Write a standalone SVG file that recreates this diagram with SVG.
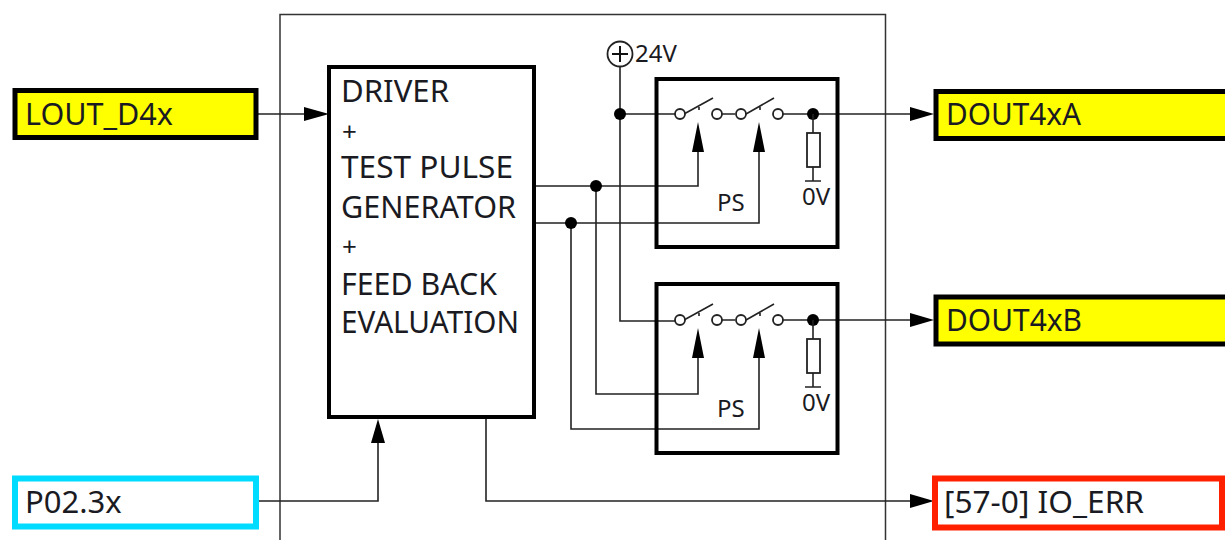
<svg xmlns="http://www.w3.org/2000/svg" width="1225" height="540" viewBox="0 0 1225 540">
<style>
text{font-family:"Noto Sans","Open Sans",sans-serif;fill:#1a1a22}
.t{font-size:31px}
.p{font-size:26px}
.s{font-size:24px}
.w{fill:none;stroke:#222;stroke-width:1.6}
.b{fill:#fff;stroke:#000;stroke-width:4}
.f{fill:none;stroke:#000;stroke-width:4}
.o{fill:#fff;stroke:#222;stroke-width:1.8}
.d{fill:#000}
.ah{fill:#000}
</style>
<defs>
<g id="sw">
<path class="w" d="M684 114L713 98M746 114L774 98M722 114H735M782 114H808M699 107V110M760 107V110"/>
<circle class="o" cx="680" cy="114" r="5"/><circle class="o" cx="717" cy="114" r="5"/><circle class="o" cx="741" cy="114" r="5"/><circle class="o" cx="778" cy="114" r="5"/>
<circle class="d" cx="813" cy="114" r="6"/>
<path class="w" d="M813 114V133M813 167V181M805 181H821"/>
<rect class="o" x="807" y="133" width="13" height="34"/>
<path class="ah" d="M698 122L704 152H692ZM759 122L765 152H753Z"/>
</g>
</defs>
<rect width="1225" height="540" fill="#fff"/>
<path id="frame" d="M280 540V14.500H885.500V540" fill="none" stroke="#333" stroke-width="1.500"/>
<g id="connectors">
<path class="w" d="M258 114H306"/><path class="ah" d="M329 114L304 107V121Z"/>
<path class="w" d="M258 501H378V442"/><path class="ah" d="M378 419L371 443H385Z"/>
<path class="w" d="M486 417V501H912"/><path class="ah" d="M934 501L910 494V508Z"/>
<path class="w" d="M813 114H912"/><path class="ah" d="M934 114L910 107V121Z"/>
<path class="w" d="M813 320H912"/><path class="ah" d="M934 320L910 313V327Z"/>
<path class="w" d="M620 67V321H675M620 114H675"/>
<path class="w" d="M536 186H698V150M536 223H759V150M596 186V394H698V356M571 223V429H759V356"/>
<circle class="d" cx="620" cy="114" r="6"/><circle class="d" cx="596" cy="186" r="6"/><circle class="d" cx="571" cy="223" r="6"/>
</g>
<g id="driver">
<rect class="b" x="329" y="67" width="205" height="350"/>
<text class="t" x="341" y="102" textLength="108" lengthAdjust="spacingAndGlyphs">DRIVER</text>
<text class="p" x="342" y="141">+</text>
<text class="t" x="341" y="178" textLength="172" lengthAdjust="spacingAndGlyphs">TEST PULSE</text>
<text class="t" x="341" y="218" textLength="175" lengthAdjust="spacingAndGlyphs">GENERATOR</text>
<text class="p" x="342" y="256">+</text>
<text class="t" x="341" y="295" textLength="156" lengthAdjust="spacingAndGlyphs">FEED BACK</text>
<text class="t" x="341" y="333" textLength="178" lengthAdjust="spacingAndGlyphs">EVALUATION</text>
</g>
<g id="ps1">
<rect class="f" x="656.500" y="79" width="181" height="168"/>
<use href="#sw"/>
<text class="s" x="717" y="211">PS</text>
<text class="s" x="802" y="205">0V</text>
</g>
<g id="ps2">
<rect class="f" x="656.500" y="284" width="181" height="169"/>
<use href="#sw" y="206"/>
<text class="s" x="717" y="417">PS</text>
<text class="s" x="802" y="411">0V</text>
</g>
<g id="supply">
<circle cx="620" cy="54" r="12.500" fill="#fff" stroke="#222" stroke-width="1.800"/>
<path d="M612 54H628M620 46V62" stroke="#111" stroke-width="2" fill="none"/>
<text class="s" x="635" y="62">24V</text>
</g>
<g id="lout"><rect x="15" y="90.500" width="241" height="47" fill="#ff0" stroke="#000" stroke-width="5"/><text class="t" x="25" y="125" textLength="148" lengthAdjust="spacingAndGlyphs">LOUT_D4x</text></g>
<g id="p02"><rect x="15" y="478.500" width="241" height="48" fill="#fff" stroke="#00dcff" stroke-width="6"/><text class="t" x="25" y="513">P02.3x</text></g>
<g id="douta"><rect x="936" y="91.500" width="295" height="47" fill="#ff0" stroke="#000" stroke-width="5"/><text class="t" x="946" y="125" textLength="135" lengthAdjust="spacingAndGlyphs">DOUT4xA</text></g>
<g id="doutb"><rect x="936" y="297" width="295" height="47" fill="#ff0" stroke="#000" stroke-width="5"/><text class="t" x="946" y="331" textLength="136" lengthAdjust="spacingAndGlyphs">DOUT4xB</text></g>
<g id="ioerr"><rect x="935" y="478.500" width="287" height="49" fill="#fff" stroke="#ff2000" stroke-width="6"/><text class="t" x="944" y="513" textLength="200" lengthAdjust="spacingAndGlyphs">[57-0] IO_ERR</text></g>
</svg>
